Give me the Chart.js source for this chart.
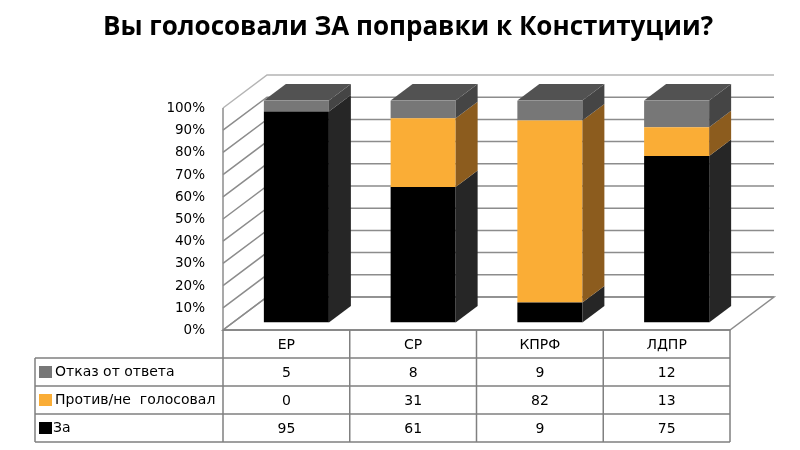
<!DOCTYPE html>
<html>
<head>
<meta charset="utf-8">
<script src="https://cdn.jsdelivr.net/npm/chart.js@4/dist/chart.umd.min.js"></script>
<style>
  html, body { margin: 0; padding: 0; background: #fff; }
  #wrap { width: 800px; height: 450px; }
</style>
</head>
<body>
<div id="wrap"><canvas id="grafico"></canvas></div>
<script>
// dados
const partidos = ['ЕР', 'СР', 'КПРФ', 'ЛДПР'];
const za = [95, 61, 9, 75];
const protiv = [0, 31, 82, 13];
const otkaz = [5, 8, 9, 12];
const nomes = ['За', 'Против/не  голосовал', 'Отказ от ответа'];
const yTicks = [0, 10, 20, 30, 40, 50, 60, 70, 80, 90, 100];

// cores: frente, lateral, topo
const cores = [
    { front: '#000000', side: '#262626', top: '#333333' },
    { front: '#FAAD36', side: '#8C5C1E', top: '#B07A2A' },
    { front: '#777777', side: '#454545', top: '#525252' }
];

// deslocamentos 3D (plano das barras -> parede da frente / fundo)
const prof = { x: 22, y: -16.5 };
const frente = { x: -10, y: 7.5 };
const fundo = { x: 34, y: -25.5 };

const efeito3d = {
    id: 'efeito3d',
    beforeDatasetsDraw(chart) {
        const ctx = chart.ctx;
        const a = chart.chartArea;
        const y = chart.scales.y;
        const L = a.left, R = a.right, B = y.getPixelForValue(0), T = y.getPixelForValue(100);
        ctx.save();
        // chão
        ctx.beginPath();
        ctx.moveTo(L + frente.x, B + frente.y);
        ctx.lineTo(R + frente.x, B + frente.y);
        ctx.lineTo(R + fundo.x, B + fundo.y);
        ctx.lineTo(L + fundo.x, B + fundo.y);
        ctx.closePath();
        ctx.fillStyle = '#fff';
        ctx.fill();
        ctx.strokeStyle = '#8c8c8c';
        ctx.lineWidth = 1.5;
        ctx.stroke();
        // parede lateral e fundo
        yTicks.forEach(v => {
            const py = y.getPixelForValue(v);
            ctx.strokeStyle = v === 100 ? '#b4b4b4' : '#8c8c8c';
            ctx.beginPath();
            ctx.moveTo(L + frente.x, py + frente.y);
            ctx.lineTo(L + fundo.x, py + fundo.y);
            ctx.lineTo(R + fundo.x, py + fundo.y);
            ctx.stroke();
        });
        ctx.strokeStyle = '#8c8c8c';
        ctx.beginPath();
        ctx.moveTo(L + frente.x, T + frente.y);
        ctx.lineTo(L + frente.x, B + frente.y);
        ctx.stroke();
        ctx.restore();
    },
    afterDatasetsDraw(chart) {
        const ctx = chart.ctx;
        const ultimo = chart.data.datasets.length - 1;
        ctx.save();
        chart.data.datasets.forEach((ds, d) => {
            chart.getDatasetMeta(d).data.forEach(bar => {
                const p = bar.getProps(['x', 'y', 'base', 'width'], true);
                const left = p.x - p.width / 2, right = p.x + p.width / 2;
                const top = Math.min(p.y, p.base), bottom = Math.max(p.y, p.base);
                if (bottom - top < 0.5) return;
                ctx.fillStyle = cores[d].side;
                ctx.beginPath();
                ctx.moveTo(right, top);
                ctx.lineTo(right + prof.x, top + prof.y);
                ctx.lineTo(right + prof.x, bottom + prof.y);
                ctx.lineTo(right, bottom);
                ctx.closePath();
                ctx.fill();
                if (d === ultimo) {
                    ctx.fillStyle = cores[d].top;
                    ctx.beginPath();
                    ctx.moveTo(left, top);
                    ctx.lineTo(left + prof.x, top + prof.y);
                    ctx.lineTo(right + prof.x, top + prof.y);
                    ctx.lineTo(right, top);
                    ctx.closePath();
                    ctx.fill();
                }
            });
        });
        ctx.restore();
    },
    afterDraw(chart) {
        // tabela de dados
        const ctx = chart.ctx;
        const x = chart.scales.x;
        const B = chart.scales.y.getPixelForValue(0) + frente.y;
        const meia = (x.getPixelForValue(1) - x.getPixelForValue(0)) / 2;
        const cols = partidos.map((p, i) => x.getPixelForValue(i) + frente.x);
        const esq = 35, linha = 28;
        const colL = cols[0] - meia, colR = cols[cols.length - 1] + meia;
        const series = [otkaz, protiv, za];
        const sNomes = [nomes[2], nomes[1], nomes[0]];
        const sCores = [cores[2].front, cores[1].front, cores[0].front];
        ctx.save();
        ctx.strokeStyle = '#808080';
        ctx.lineWidth = 1.5;
        ctx.beginPath();
        ctx.moveTo(colL, B);
        ctx.lineTo(colR, B);
        for (let r = 1; r <= 4; r++) {
            ctx.moveTo(esq, B + r * linha);
            ctx.lineTo(colR, B + r * linha);
        }
        ctx.moveTo(esq, B + linha);
        ctx.lineTo(esq, B + 4 * linha);
        for (let i = 0; i <= cols.length; i++) {
            const cx = colL + i * meia * 2;
            ctx.moveTo(cx, B);
            ctx.lineTo(cx, B + 4 * linha);
        }
        ctx.stroke();

        ctx.font = '14px "DejaVu Sans"';
        ctx.fillStyle = '#000';
        ctx.textBaseline = 'middle';
        ctx.textAlign = 'center';
        partidos.forEach((p, i) => ctx.fillText(p, cols[i], B + linha / 2 + 1));
        series.forEach((s, r) => {
            const cy = B + (r + 1.5) * linha;
            s.forEach((v, i) => ctx.fillText(String(v), cols[i], cy + 1));
            ctx.fillStyle = sCores[r];
            ctx.fillRect(39, cy - 6, 13, 12);
            ctx.fillStyle = '#000';
            ctx.textAlign = 'left';
            ctx.fillText(sNomes[r], r === 2 ? 53 : 55, cy);
            ctx.textAlign = 'center';
        });
        ctx.restore();
    }
};

new Chart(document.getElementById('grafico'), {
    type: 'bar',
    data: {
        labels: partidos,
        datasets: [
            { label: nomes[0], data: za, backgroundColor: cores[0].front },
            { label: nomes[1], data: protiv, backgroundColor: cores[1].front },
            { label: nomes[2], data: otkaz, backgroundColor: cores[2].front }
        ]
    },
    options: {
        responsive: true,
        maintainAspectRatio: false,
        animation: false,
        devicePixelRatio: 1,
        layout: { padding: { left: 16, right: 0, top: 0, bottom: 127.5 } },
        datasets: { bar: { barPercentage: 1, categoryPercentage: 0.513 } },
        plugins: {
            legend: { display: false },
            tooltip: { enabled: false },
            title: {
                display: true,
                text: 'Вы голосовали ЗА поправки к Конституции?',
                color: '#000',
                font: { family: 'Open Sans', size: 26, weight: 'bold', lineHeight: 1.2 },
                padding: { top: 12, bottom: 57.3 }
            }
        },
        scales: {
            x: { display: false, stacked: true },
            y: {
                stacked: true,
                min: 0,
                max: 100,
                grid: { display: false, drawTicks: false },
                border: { display: false },
                ticks: {
                    stepSize: 10,
                    padding: 28,
                    labelOffset: 8,
                    color: '#000',
                    font: { family: 'DejaVu Sans', size: 13.5 },
                    callback: v => v + '%'
                },
                afterFit: s => { s.width = 217; }
            },
            yR: {
                position: 'right',
                display: true,
                grid: { display: false, drawTicks: false },
                border: { display: false },
                ticks: { display: false },
                afterFit: s => { s.width = 60; }
            }
        }
    },
    plugins: [efeito3d]
});
</script>
</body>
</html>
